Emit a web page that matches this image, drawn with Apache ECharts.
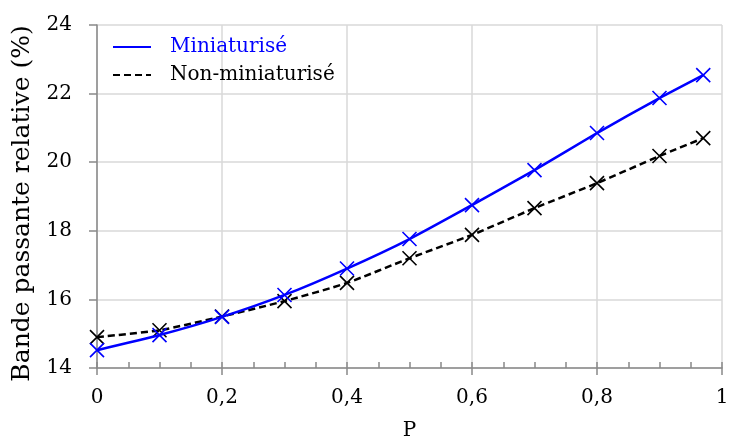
<!DOCTYPE html>
<html>
<head>
<meta charset="utf-8">
<script src="https://cdn.jsdelivr.net/npm/echarts@6/dist/echarts.min.js"></script>
<style>
  html, body { margin: 0; padding: 0; background: #fff; }
  #chart { width: 729px; height: 439px; }
</style>
</head>
<body>
<div id="chart"></div>
<script>
const pValues = [0, 0.1, 0.2, 0.3, 0.4, 0.5, 0.6, 0.7, 0.8, 0.9, 0.97]
const miniValues = [14.52, 14.96, 15.49, 16.13, 16.9, 17.76, 18.75, 19.77, 20.85, 21.87, 22.54]
const nonMiniValues = [14.9, 15.1, 15.5, 15.95, 16.48, 17.2, 17.88, 18.66, 19.39, 20.18, 20.7]
const seriesNames = ['Miniaturisé', 'Non-miniaturisé']

const font = 'DejaVu Serif'
const axisGrey = '#898989'
const gridGrey = '#d9d9d9'
const cross = 'path://M0,0L10,10M10,0L0,10'

const pairs = vals => pValues.map((p, i) => [p, vals[i]])

const chart = echarts.init(document.getElementById('chart'))
chart.setOption({
    animation: false,
    grid: { left: 97, right: 7, top: 25, bottom: 71, outerBoundsMode: 'none', containLabel: false },
    legend: {
        orient: 'vertical',
        left: 107,
        top: 32,
        itemWidth: 38,
        itemHeight: 14,
        itemGap: 8,
        textStyle: { fontFamily: font, fontSize: 20, padding: [0, 0, 0, 14] },
        itemStyle: { opacity: 0 },
        data: [
            { name: seriesNames[0], textStyle: { color: '#0000ff' } },
            { name: seriesNames[1], textStyle: { color: '#000' } }
        ]
    },
    xAxis: [{
        // main axis: labels, major ticks (outward), grid lines
        type: 'value',
        min: 0,
        max: 1,
        interval: 0.2,
        name: 'P',
        nameLocation: 'middle',
        nameGap: 53,
        nameTextStyle: { fontFamily: font, fontSize: 20, color: '#000' },
        axisLine: { lineStyle: { color: axisGrey, width: 1.5 } },
        axisTick: { length: 7, lineStyle: { color: axisGrey, width: 1.5 } },
        axisLabel: {
            margin: 20,
            fontFamily: font,
            fontSize: 20,
            color: '#000',
            formatter: v => String(v).replace('.', ',')
        },
        splitLine: { show: true, lineStyle: { color: gridGrey, width: 1.5 } }
    }, {
        // small inner ticks every 0.05
        type: 'value',
        position: 'bottom',
        min: 0,
        max: 1,
        interval: 0.05,
        axisLine: { show: false },
        axisTick: { inside: true, length: 6, lineStyle: { color: axisGrey, width: 1.5 } },
        axisLabel: { show: false },
        splitLine: { show: false }
    }],
    yAxis: {
        type: 'value',
        min: 14,
        max: 24,
        interval: 2,
        name: 'Bande passante relative (%)',
        nameLocation: 'middle',
        nameGap: 62,
        nameTextStyle: { fontFamily: font, fontSize: 25, color: '#000', padding: [0, 14, 0, 0] },
        axisLine: { show: true, lineStyle: { color: axisGrey, width: 1.5 } },
        axisTick: { show: true, length: 8, lineStyle: { color: axisGrey, width: 1.5 } },
        axisLabel: { margin: 25, fontFamily: font, fontSize: 20, color: '#000' },
        splitLine: { show: true, lineStyle: { color: gridGrey, width: 1.5 } }
    },
    series: [
        {
            name: seriesNames[0],
            type: 'line',
            data: pairs(miniValues),
            smooth: 0.2,
            symbol: cross,
            symbolSize: 14,
            itemStyle: { color: 'none', borderColor: '#0000ff', borderWidth: 1.6 },
            lineStyle: { color: '#0000ff', width: 2.5 },
            z: 3
        },
        {
            name: seriesNames[1],
            type: 'line',
            data: pairs(nonMiniValues),
            smooth: 0.2,
            symbol: cross,
            symbolSize: 14,
            itemStyle: { color: 'none', borderColor: '#000', borderWidth: 1.6 },
            lineStyle: { color: '#000', width: 2.5, type: [7, 4] },
            z: 2
        }
    ]
})
</script>
</body>
</html>
